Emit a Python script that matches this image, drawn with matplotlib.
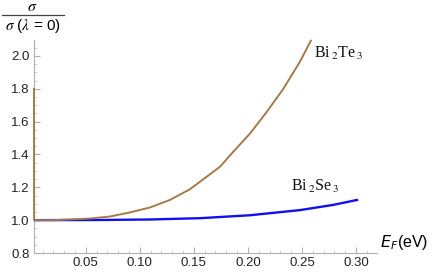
import numpy as np
import matplotlib
matplotlib.use("Agg")
import matplotlib.pyplot as plt
from matplotlib.lines import Line2D

# Bi2Te3 (brown); starts with a vertical jump at E_F -> 0
te_x = [0.002, 0.0021, 0.02, 0.0537, 0.0722, 0.0907, 0.1093, 0.1278, 0.1463,
        0.1648, 0.1741, 0.1864, 0.2019, 0.2173, 0.2327, 0.2481, 0.2583]
te_y = [1.80, 1.00, 1.000, 1.010, 1.022, 1.047, 1.077, 1.123, 1.188,
        1.279, 1.325, 1.416, 1.527, 1.658, 1.799, 1.964, 2.093]

# Bi2Se3 (blue)
se_x = [0.002, 0.063, 0.109, 0.156, 0.202, 0.248, 0.279, 0.301]
se_y = [1.000, 1.001, 1.004, 1.012, 1.030, 1.061, 1.093, 1.123]

xticks = [0.05, 0.10, 0.15, 0.20, 0.25, 0.30]
yticks = [0.8, 1.0, 1.2, 1.4, 1.6, 1.8, 2.0]

W, H = 436, 273
fig = plt.figure(figsize=(W / 100, H / 100), dpi=100)
ax = fig.add_axes([34 / W, 20 / H, (377 - 34) / W, (253 - 40) / H])

ax.plot(te_x, te_y, color="#a67a48", lw=1.4, clip_on=False, zorder=4)
ax.plot(se_x, se_y, color="#1010ee", lw=1.7, zorder=3)

ax.set_xlim(0.002, 0.3195)
ax.set_ylim(0.8, 2.097)

ax.set_xticks(xticks)
ax.set_xticklabels(["%.2f" % v for v in xticks])
ax.set_yticks(yticks)
ax.set_yticklabels(["%.1f" % v for v in yticks])
ax.set_xticks(np.arange(0.01, 0.32, 0.01), minor=True)
ax.set_yticks(np.arange(0.85, 2.1, 0.05), minor=True)

for s in ["top", "right"]:
    ax.spines[s].set_visible(False)
for s in ["left", "bottom"]:
    ax.spines[s].set_color("#b0b0b0")
    ax.spines[s].set_linewidth(0.8)

ax.tick_params(which="major", direction="in", length=4, color="#b0b0b0",
               labelsize=9.5, labelcolor="#222222", pad=3)
ax.tick_params(which="minor", direction="in", length=2, color="#c8c8c8")
for lab in ax.get_xticklabels() + ax.get_yticklabels():
    lab.set_family("Liberation Sans")

# curve labels
ax.text(0.261, 2.015, r"Bi$\,_2$Te$\,_3$", family="Liberation Serif", fontsize=11.5,
        math_fontfamily="stix", ha="left", va="center", color="#111111")
ax.text(0.240, 1.205, r"Bi$\,_2$Se$\,_3$", family="Liberation Serif", fontsize=11.5,
        math_fontfamily="stix", ha="left", va="center", color="#111111")

# axis labels
fig.text(380 / W, 1 - 243 / H, r"$E_F$(eV)", family="Liberation Sans", fontsize=11.5,
         ha="left", va="center")
fig.text(32 / W, 1 - 14 / H, r"$\sigma$", fontsize=11.5, math_fontfamily="stix",
         ha="center", va="bottom")
fig.lines.append(Line2D([2 / W, 64 / W], [1 - 15 / H, 1 - 15 / H],
                        transform=fig.transFigure, color="#444444", lw=0.9))
fig.text(33 / W, 1 - 26 / H, r"$\sigma$ ($\lambda$ = 0)", family="Liberation Sans",
         fontsize=11, math_fontfamily="stix", ha="center", va="center")

fig.savefig("out.png", dpi=100)
